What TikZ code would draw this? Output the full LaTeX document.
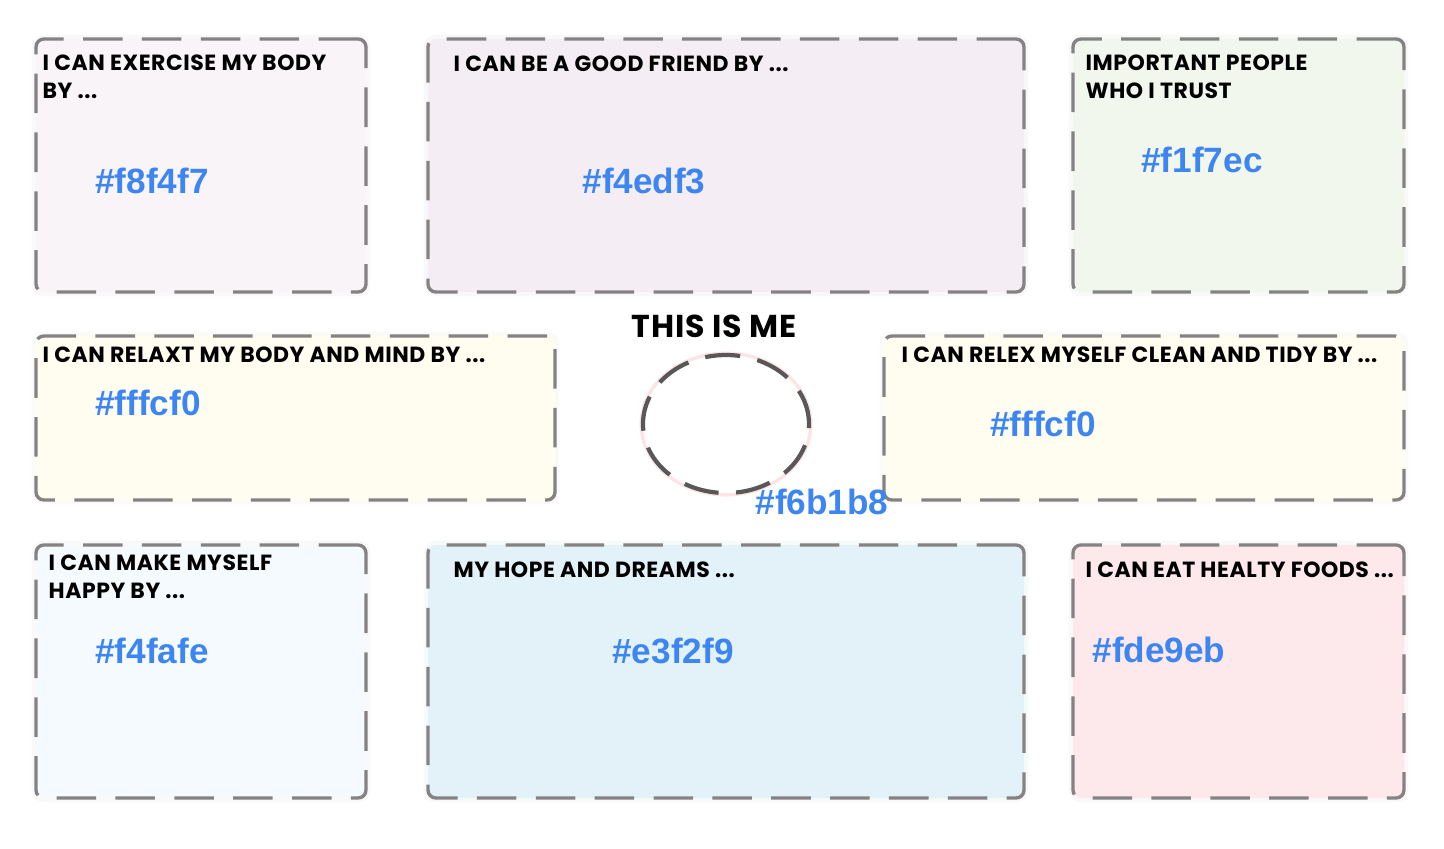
\documentclass[tikz,border=0pt]{standalone}
\usepackage{fontspec}
\setmainfont{Liberation Sans}
\newfontfamily\handfont{Poppins}[LetterSpace=2.5]
\usepackage{xcolor}
\usetikzlibrary{positioning,shapes.geometric}
\definecolor{meExercise}{HTML}{F8F4F7}
\definecolor{meFriend}  {HTML}{F4EDF3}
\definecolor{meTrust}   {HTML}{F1F7EC}
\definecolor{meRelax}   {HTML}{FFFCF0}
\definecolor{meHappy}   {HTML}{F4FAFE}
\definecolor{meDream}   {HTML}{E3F2F9}
\definecolor{meFood}    {HTML}{FDE9EB}
\definecolor{meGlow}    {HTML}{F6B1B8}
\definecolor{meHex}     {RGB}{ 61,133,240}
\definecolor{meLine}    {RGB}{132,130,130}
\definecolor{meRing}    {RGB}{ 88, 88, 88}

\begin{document}
\begin{tikzpicture}[
  card/.style={draw=meLine,line width=1.9pt,dash pattern=on 22.5pt off 11pt,
               rounded corners=4.5pt,fill=#1,inner sep=0pt,
               preaction={draw=#1!80!black!40,line width=5pt,opacity=0.25,solid}},
  ttl/.style={font=\handfont\bfseries\fontsize{12.5}{15.8}\selectfont,inner sep=0pt,align=left},
  hex/.style={font=\bfseries\fontsize{20}{24}\selectfont,text=meHex,inner sep=0pt}
]
\useasboundingbox (0,0) rectangle (28.88,-16.96);

% top row
\node[card=meExercise,minimum width=6.6cm,minimum height=5.06cm]  (EX) at (4.02,-3.31)  {};
\node[card=meFriend,minimum width=11.92cm,minimum height=5.06cm]  (FR) at (14.52,-3.31) {};
\node[card=meTrust,minimum width=6.62cm,minimum height=5.06cm]    (TR) at (24.77,-3.31) {};

% middle row
\node[card=meRelax,minimum width=10.38cm,minimum height=3.28cm]   (RX) at (5.91,-8.36)  {};
\node[card=meRelax,minimum width=10.4cm,minimum height=3.28cm]    (CL) at (22.88,-8.36) {};
\node[draw=meRing,line width=2.4pt,dash pattern=on 20pt off 10pt,fill=white,
      ellipse,minimum width=3.32cm,minimum height=2.76cm,inner sep=0pt,
      preaction={draw=meGlow,line width=4pt,opacity=0.35,solid}] (ME) at (14.52,-8.48) {};

% bottom row
\node[card=meHappy,minimum width=6.6cm,minimum height=5.06cm]     (HP) at (4.02,-13.43)  {};
\node[card=meDream,minimum width=11.92cm,minimum height=5.06cm]   (DR) at (14.52,-13.43) {};
\node[card=meFood,minimum width=6.62cm,minimum height=5.06cm]     (FD) at (24.77,-13.43) {};

% titles
\node[ttl,below right=0.34cm and 0.16cm of EX.north west] (tEX) {I CAN EXERCISE MY BODY\\BY ...};
\node[ttl,below right=0.36cm and 0.54cm of FR.north west] (tFR) {I CAN BE A GOOD FRIEND BY ...};
\node[ttl,below right=0.34cm and 0.28cm of TR.north west] (tTR) {IMPORTANT PEOPLE\\WHO I TRUST};
\node[ttl,below right=0.24cm and 0.16cm of RX.north west] (tRX) {I CAN RELAXT MY BODY AND MIND BY ...};
\node[ttl,below right=0.24cm and 0.38cm of CL.north west] (tCL) {I CAN RELEX MYSELF CLEAN AND TIDY BY ...};
\node[ttl,below right=0.22cm and 0.28cm of HP.north west] (tHP) {I CAN MAKE MYSELF\\HAPPY BY ...};
\node[ttl,below right=0.36cm and 0.54cm of DR.north west] (tDR) {MY HOPE AND DREAMS ...};
\node[ttl,below right=0.36cm and 0.28cm of FD.north west] (tFD) {I CAN EAT HEALTY FOODS ...};
\node[font=\handfont\bfseries\fontsize{18}{20}\selectfont,inner sep=0pt] (tME) at (14.28,-6.52) {THIS IS ME};

% colour labels
\node[hex] (hEX) at (3.04,-3.62)   {\#f8f4f7};
\node[hex] (hFR) at (12.88,-3.62)  {\#f4edf3};
\node[hex] (hTR) at (24.04,-3.2)   {\#f1f7ec};
\node[hex] (hRX) at (2.96,-8.06)   {\#fffcf0};
\node[hex] (hCL) at (20.86,-8.48)  {\#fffcf0};
\node[hex] (hME) at (16.44,-10.04) {\#f6b1b8};
\node[hex] (hHP) at (3.04,-13.02)  {\#f4fafe};
\node[hex] (hDR) at (13.46,-13.02) {\#e3f2f9};
\node[hex] (hFD) at (23.18,-13.0)  {\#fde9eb};
\end{tikzpicture}
\end{document}
